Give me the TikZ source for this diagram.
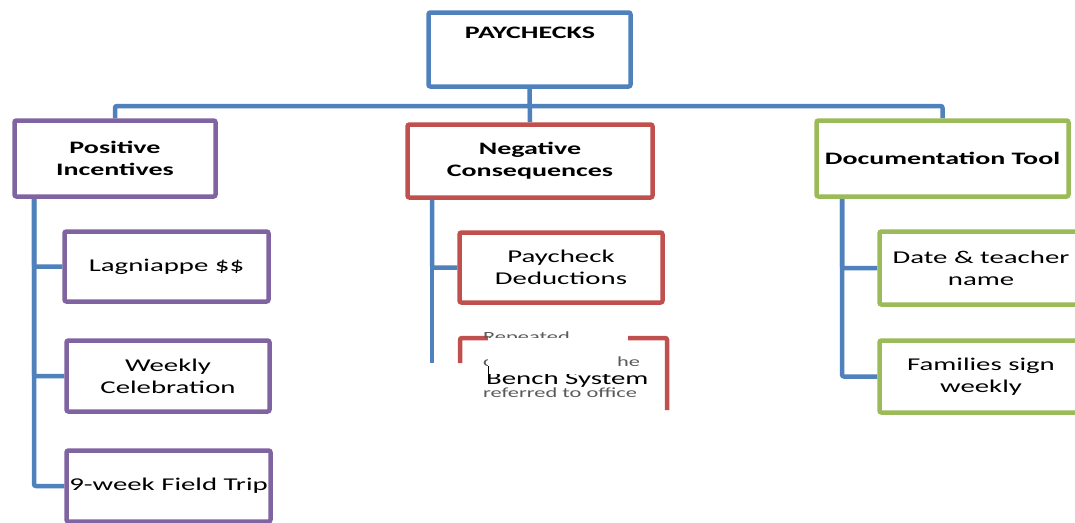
\documentclass[tikz,border=0pt]{standalone}
\usepackage{fontspec}
\setmainfont{Carlito}[FakeStretch=1.6]
\usetikzlibrary{backgrounds}
\definecolor{cblue}{HTML}{4F81BD}
\definecolor{cpurple}{HTML}{8064A2}
\definecolor{cred}{HTML}{C0504D}
\definecolor{cgreen}{HTML}{9BBB59}
\definecolor{ovgray}{HTML}{5A5A5A}
\begin{document}
\begin{tikzpicture}[x=1pt,y=-1pt,
  box/.style={draw, line width=4.5pt, rounded corners=2pt, fill=white, inner sep=0pt, align=center},
  conn/.style={draw=cblue, line width=4.5pt, rounded corners=2pt},
  head/.style={font=\bfseries\fontsize{17.5}{22}\selectfont},
  lab/.style={font=\fontsize{18}{22}\selectfont},
  ovt/.style={font=\fontsize{14}{17}\selectfont, text=ovgray, inner sep=0pt},
  redline/.style={draw=cred, line width=4.5pt, rounded corners=2pt}]
\clip (0,0) rectangle (1075,522);
% top
\node[box, draw=cblue, minimum width=202pt, minimum height=74pt] (pay) at (529.5,49.5) {};
\node[head, inner sep=0pt] (paytxt) at (530,33) {PAYCHECKS};
% level 1
\node[box, head, draw=cpurple, minimum width=201pt, minimum height=76pt] (pos) at (115,158.5) {Positive\\Incentives};
\node[box, head, draw=cred, minimum width=245pt, minimum height=73pt] (neg) at (530,161) {Negative\\Consequences};
\node[box, head, draw=cgreen, minimum width=252pt, minimum height=76pt] (doc) at (942.5,158.5) {Documentation Tool};
% level 2 positive
\node[box, lab, draw=cpurple, minimum width=204pt, minimum height=70pt] (lag) at (166.5,266.5) {Lagniappe \$\$};
\node[box, lab, draw=cpurple, minimum width=203pt, minimum height=71pt] (wk) at (168,376) {Weekly\\Celebration};
\node[box, lab, draw=cpurple, minimum width=204pt, minimum height=71pt] (trip) at (168.5,486) {9-week Field Trip};
% level 2 negative
\node[box, lab, draw=cred, minimum width=203pt, minimum height=70pt] (ded) at (561,267.5) {Paycheck\\Deductions};
% level 2 documentation
\node[box, lab, draw=cgreen, minimum width=203pt, minimum height=73pt] (date) at (981,268) {Date \& teacher\\name};
\node[box, lab, draw=cgreen, minimum width=203pt, minimum height=72pt] (fam) at (981,376.5) {Families sign\\weekly};
% partial second red box (rendering artefact)
\coordinate (rb1) at (460,363);
\coordinate (rb2) at (460,338);
\coordinate (rb3) at (488,338);
\coordinate (rb4) at (628,338);
\coordinate (rb5) at (667,338);
\coordinate (rb6) at (667,410);
\draw[redline] (rb1) -- (rb2) -- (rb3);
\draw[redline] (rb4) -- (rb5) -- (rb6);
\begin{scope}
  \clip (470,300) rectangle (650,337);
  \node[ovt, anchor=base west] (rep) at (483,341) {Repeated};
\end{scope}
\node[ovt, anchor=base west] (cfrag) at (483,366) {c};
\node[ovt, anchor=base west] (hefrag) at (617,366) {he};
\fill[white] (488,338) rectangle (617,371);
\begin{scope}
  \clip (470,374) rectangle (660,400);
  \node[lab, anchor=base west, inner sep=0pt] (bench) at (486,384) {Bench System};
\end{scope}
\node[ovt, anchor=base west] (ref) at (483,397) {referred to office};
\coordinate (cur1) at (488,366);
\coordinate (cur2) at (488,383);
\draw[line width=0.8pt] (cur1) -- (cur2);
% connectors
\begin{scope}[on background layer]
  \fill[white] (0,0) rectangle (1075,522);
  \coordinate (bus) at (530,106);
  \draw[conn] (pos.north) |- (bus) -| (doc.north);
  \draw[conn] (pay.south) -- (neg.north);
  \coordinate (pspine) at (34,199);
  \draw[conn] (pspine) |- (lag.west);
  \draw[conn] (pspine) |- (wk.west);
  \draw[conn] (pspine) |- (trip.west);
  \coordinate (nspine) at (432,199);
  \coordinate (nend) at (432,363);
  \draw[conn] (nspine) -- (nend);
  \draw[conn] (nspine) |- (ded.west);
  \coordinate (dspine) at (842,199);
  \draw[conn] (dspine) |- (date.west);
  \draw[conn] (dspine) |- (fam.west);
\end{scope}
\end{tikzpicture}
\end{document}
